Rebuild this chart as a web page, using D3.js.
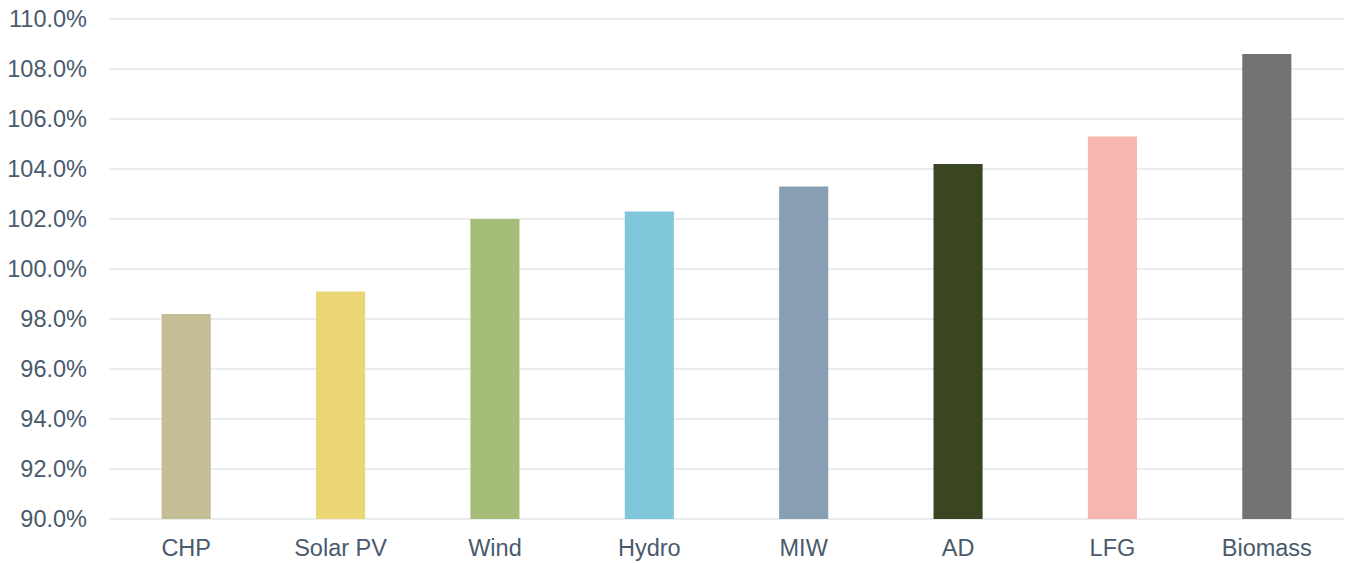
<!DOCTYPE html>
<html>
<head>
<meta charset="utf-8">
<script src="https://cdn.jsdelivr.net/npm/d3@7"></script>
<style>
html,body{margin:0;padding:0;background:#fff;}
svg{display:block;font-family:"Liberation Sans",Arial,sans-serif;}
</style>
</head>
<body>
<svg id="chart" width="1346" height="563"></svg>
<script>
const categories = ["CHP","Solar PV","Wind","Hydro","MIW","AD","LFG","Biomass"];
const values = [98.2, 99.1, 102.0, 102.3, 103.3, 104.2, 105.3, 108.6];
const colors = ["#c4bd95","#ebd675","#a6bc79","#80c6db","#889eb3","#3a4522","#f5b7ae","#727272"];
const yTicks = [90,92,94,96,98,100,102,104,106,108,110];

const svg = d3.select("#chart");
const plotLeft = 109, plotRight = 1344, plotTop = 19, plotBottom = 519;
const textColor = "#4a5a6c";

const x = d3.scaleBand().domain(categories).range([plotLeft, plotRight]).padding(0);
const y = d3.scaleLinear().domain([90, 110]).range([plotBottom, plotTop]);
const barW = x.bandwidth() * 0.318;

// gridlines
svg.append("g").selectAll("line").data(yTicks).join("line")
  .attr("x1", plotLeft).attr("x2", plotRight)
  .attr("y1", d => y(d)).attr("y2", d => y(d))
  .attr("stroke", "#e2e7eb").attr("stroke-width", 1.5);

// y axis labels
const yAxis = d3.axisLeft(y).tickValues(yTicks).tickSize(0).tickPadding(22)
  .tickFormat(d => d.toFixed(1) + "%");
const gy = svg.append("g").attr("transform", `translate(${plotLeft},0)`).call(yAxis);
gy.select(".domain").remove();
gy.selectAll("text").attr("fill", textColor).style("font-size", "23.5px")
  .style("font-family", '"Liberation Sans",Arial,sans-serif');

// bars
svg.append("g").selectAll("rect").data(values).join("rect")
  .attr("x", (d, i) => x(categories[i]) + (x.bandwidth() - barW) / 2)
  .attr("width", barW)
  .attr("y", d => y(d))
  .attr("height", d => y(90) - y(d))
  .attr("fill", (d, i) => colors[i]);

// x axis labels
const xAxis = d3.axisBottom(x).tickSize(0).tickPadding(20);
const gx = svg.append("g").attr("transform", `translate(0,${plotBottom})`).call(xAxis);
gx.select(".domain").remove();
gx.selectAll("text").attr("fill", textColor).style("font-size", "23.5px")
  .style("font-family", '"Liberation Sans",Arial,sans-serif');
</script>
</body>
</html>
